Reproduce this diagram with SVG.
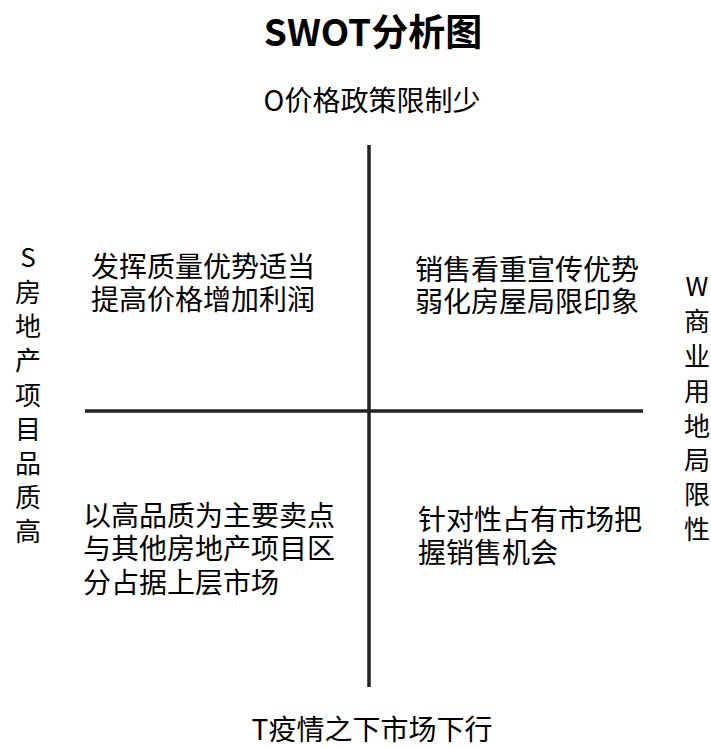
<svg xmlns="http://www.w3.org/2000/svg" width="711" height="747" viewBox="0 0 711 747">
<style>
text{font-family:"Noto Sans CJK SC","Noto Sans",sans-serif;fill:#000}
.t{font-size:37px;font-weight:bold;text-anchor:middle}
.ax{font-size:28px;text-anchor:middle}
.q{font-size:28px}
.v{font-size:26px;text-anchor:middle}
.ln{stroke:#222;stroke-width:3.5;fill:none}
</style>
<rect width="711" height="747" fill="#fff"/>
<g id="connectors">
<line class="ln" x1="369" y1="145" x2="369" y2="687"/>
<line class="ln" x1="85" y1="411" x2="643" y2="411"/>
</g>
<g id="title"><text class="t" x="373" y="46">SWOT分析图</text></g>
<g id="O"><text class="ax" x="372" y="111">O价格政策限制少</text></g>
<g id="T"><text class="ax" x="372" y="740">T疫情之下市场下行</text></g>
<g id="S"><text class="v" x="28"><tspan x="28" y="267">S</tspan><tspan x="28" y="302">房</tspan><tspan x="28" y="336">地</tspan><tspan x="28" y="370">产</tspan><tspan x="28" y="405">项</tspan><tspan x="28" y="439">目</tspan><tspan x="28" y="473">品</tspan><tspan x="28" y="507">质</tspan><tspan x="28" y="541">高</tspan></text></g>
<g id="W"><text class="v" x="697"><tspan x="697" y="296">W</tspan><tspan x="697" y="331">商</tspan><tspan x="697" y="366">业</tspan><tspan x="697" y="401">用</tspan><tspan x="697" y="436">地</tspan><tspan x="697" y="470">局</tspan><tspan x="697" y="504">限</tspan><tspan x="697" y="539">性</tspan></text></g>
<g id="SO"><text class="q"><tspan x="91" y="277">发挥质量优势适当</tspan><tspan x="91" y="310">提高价格增加利润</tspan></text></g>
<g id="WO"><text class="q"><tspan x="415" y="280">销售看重宣传优势</tspan><tspan x="415" y="312">弱化房屋局限印象</tspan></text></g>
<g id="ST"><text class="q"><tspan x="83" y="526">以高品质为主要卖点</tspan><tspan x="83" y="559">与其他房地产项目区</tspan><tspan x="83" y="593">分占据上层市场</tspan></text></g>
<g id="WT"><text class="q"><tspan x="418" y="530">针对性占有市场把</tspan><tspan x="418" y="563">握销售机会</tspan></text></g>
</svg>
